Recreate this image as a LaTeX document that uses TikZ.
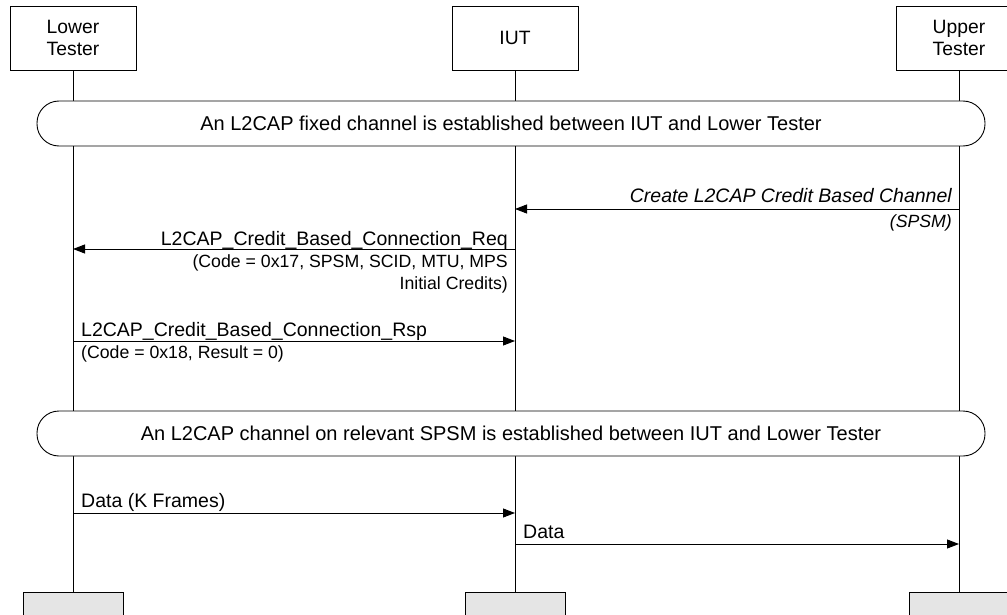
\documentclass[tikz,border=0pt]{standalone}
\usepackage{fontspec}
\setmainfont{Liberation Sans}
\usetikzlibrary{arrows.meta, positioning}

\begin{document}
\begin{tikzpicture}[
    x=1pt, y=-1pt,
    actor/.style={rectangle, draw, fill=white, minimum width=126pt, minimum height=64pt, align=center, font=\fontsize{19.3}{22}\selectfont, line width=0.9pt},
    endbox/.style={rectangle, draw, fill=black!10, minimum width=100pt, minimum height=40pt, anchor=north, line width=0.9pt},
    bar/.style={rectangle, draw, fill=white, rounded corners=22pt, minimum width=948pt, minimum height=45pt, font=\fontsize{20}{22}\selectfont, line width=0.9pt},
    life/.style={line width=0.9pt},
    msg/.style={line width=0.9pt, -{Triangle[length=12pt,width=9pt]}},
    lbl/.style={inner sep=0pt, font=\fontsize{19.5}{22}\selectfont},
    par/.style={inner sep=0pt, align=right, font=\fontsize{17.7}{22.5}\selectfont}
]
\useasboundingbox (0,0) rectangle (1007,615);
\clip (0,0) rectangle (1007,615);

% Instances
\node (lower) [actor] at (73,38) {Lower\\Tester};
\node (iut) [actor] at (515,38) {IUT};
\node (upper) [actor] at (959,38) {Upper\\Tester};

\node (lowerend) [endbox] at (73,592) {};
\node (iutend) [endbox] at (515,592) {};
\node (upperend) [endbox] at (959,592) {};

% Lifelines
\draw [life] (lower) -- (lowerend);
\draw [life] (iut) -- (iutend);
\draw [life] (upper) -- (upperend);

% Conditions
\node (fixed) [bar] at (511,123.5) {An L2CAP fixed channel is established between IUT and Lower Tester};
\node (spsm) [bar] at (511,433.5) {An L2CAP channel on relevant SPSM is established between IUT and Lower Tester};

% Message end points
\coordinate (ut1) at (959,209);
\coordinate (iut1) at (515,209);
\coordinate (iut2) at (515,249);
\coordinate (lt2) at (73,249);
\coordinate (lt3) at (73,341);
\coordinate (iut3) at (515,341);
\coordinate (lt4) at (73,513);
\coordinate (iut4) at (515,513);
\coordinate (iut5) at (515,544);
\coordinate (ut5) at (959,544);

% Messages
\draw [msg] (ut1) -- (iut1);
\node (create) [lbl, anchor=base east, font=\fontsize{19.5}{22}\selectfont\itshape] at (952,203) {Create L2CAP Credit Based Channel};
\node (createpar) [par, anchor=base east, font=\fontsize{17.7}{22.5}\selectfont\itshape] at (952,227) {(SPSM)};

\draw [msg] (iut2) -- (lt2);
\node (req) [lbl, anchor=base east] at (508,245) {L2CAP\_Credit\_Based\_Connection\_Req};
\node (reqpar) [par, anchor=north east] at (508,254) {(Code = 0x17, SPSM, SCID, MTU, MPS\\Initial Credits)};

\draw [msg] (lt3) -- (iut3);
\node (rsp) [lbl, anchor=base west] at (81,336) {L2CAP\_Credit\_Based\_Connection\_Rsp};
\node (rsppar) [par, anchor=base west] at (81,358) {(Code = 0x18, Result = 0)};

\draw [msg] (lt4) -- (iut4);
\node (kframes) [lbl, anchor=base west] at (81,507) {Data (K Frames)};

\draw [msg] (iut5) -- (ut5);
\node (data) [lbl, anchor=base west] at (523,538) {Data};

\end{tikzpicture}
\end{document}
